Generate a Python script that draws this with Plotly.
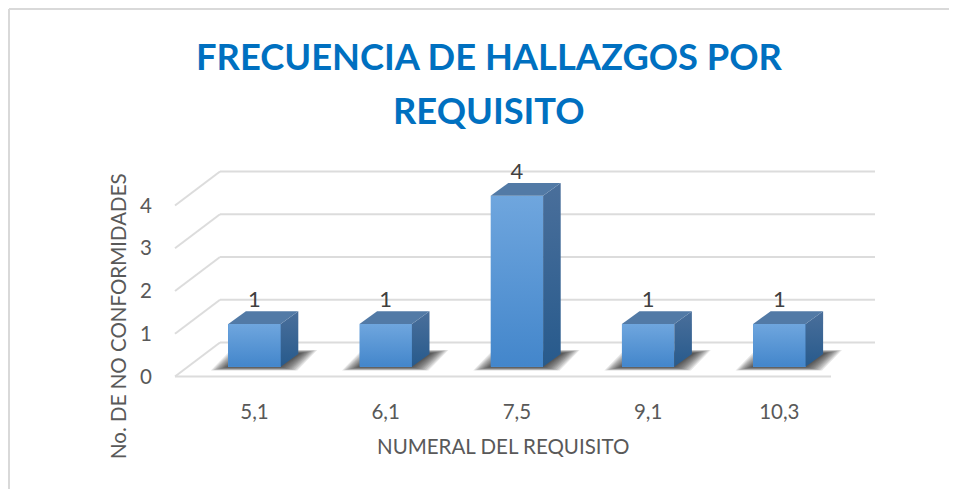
import plotly.graph_objects as go

categories = ["5,1", "6,1", "7,5", "9,1", "10,3"]
values = [1, 1, 4, 1, 1]
y_ticks = [0, 1, 2, 3, 4]
title_line_1 = "FRECUENCIA DE HALLAZGOS POR"
title_line_2 = "REQUISITO"
x_title = "NUMERAL DEL REQUISITO"
y_title = "No. DE NO CONFORMIDADES"

PAGE = 8       # the browser's default page margin around the figure
W, H = 957 - PAGE, 489 - PAGE
PX_X = 131.2   # px per category
PX_Y = 42.75   # px per value unit
X0 = 254.5     # pixel of first category (page coordinates)
Y0 = 376.5     # pixel of value 0 on the front plane
L, R, T, B = 165, 885, 140, 392

def xd(px):
    return (px - X0) / PX_X

def yd(px):
    return (Y0 - px) / PX_Y

fx = lambda px: (px - L) / (R - L)
fy = lambda px: 1 - (px - T) / (B - T)

FLOOR_DX, FLOOR_DY = 45 / PX_X, 34 / PX_Y      # depth of the floor
BAR_DX, BAR_DY = 17.6 / PX_X, 12.7 / PX_Y      # depth of each bar
BAR_W = 52.4 / PX_X
BAR_BASE = 9.8 / PX_Y
xpos = list(range(len(categories)))
x_left = xd(175)
x_front_right = xd(831)
x_right = xd(875)

shapes = []
GRID = dict(color="#dcdcdc", width=2)
for t in y_ticks:
    shapes.append(dict(type="line", xref="x", yref="y", layer="below", line=GRID,
                       x0=x_left, y0=t, x1=x_left + FLOOR_DX, y1=t + FLOOR_DY))
    shapes.append(dict(type="line", xref="x", yref="y", layer="below", line=GRID,
                       x0=x_left + FLOOR_DX, y0=t + FLOOR_DY, x1=x_right, y1=t + FLOOR_DY))
shapes.append(dict(type="line", xref="x", yref="y", layer="below", line=GRID,
                   x0=x_left, y0=0, x1=x_front_right, y1=0))

# floor shadows, layered so the edge looks soft
LAYERS = 12
for p in xpos:
    for k in range(LAYERS):
        grow = (LAYERS - 1 - k) * 1.5 / PX_X
        gy = (LAYERS - 1 - k) * 0.3 / PX_Y
        lx = p - BAR_W / 2 - 1 / PX_X - grow
        rx = p + BAR_W / 2 + grow
        by = BAR_BASE - 0.5 / PX_Y - gy
        ty = BAR_BASE + 13.5 / PX_Y + gy
        sk = 20 / PX_X
        path = f"M{lx},{by} L{rx},{by} L{rx + sk},{ty} L{lx + sk},{ty} Z"
        shapes.append(dict(type="path", xref="x", yref="y", layer="below", path=path,
                           fillcolor="rgba(40,40,40,0.11)", line=dict(width=0)))

# frame
FRAME = dict(color="#d9d9d9", width=2)
shapes.append(dict(type="line", xref="paper", yref="paper", line=FRAME,
                   x0=fx(9), y0=fy(9), x1=fx(957), y1=fy(9)))
shapes.append(dict(type="line", xref="paper", yref="paper", line=FRAME,
                   x0=fx(9), y0=fy(9), x1=fx(9), y1=fy(489)))

fig = go.Figure()
fig.add_trace(go.Bar(x=xpos, y=values, base=[BAR_BASE] * len(values), width=BAR_W,
                     marker=dict(color="#5393d6", line=dict(width=0)), showlegend=False))

def face(xs, ys, **kw):
    fig.add_trace(go.Scatter(x=xs, y=ys, mode="lines", fill="toself", line=dict(width=0),
                             showlegend=False, hoverinfo="skip", **kw))

for p, v in zip(xpos, values):
    l, r = p - BAR_W / 2, p + BAR_W / 2
    b, t = BAR_BASE, BAR_BASE + v
    face([l, r, r, l, l], [b, b, t, t, b],
         fillgradient=dict(type="vertical", colorscale=[[0, "#4386cb"], [1, "#6fa6de"]]))
    face([r, r + BAR_DX, r + BAR_DX, r, r], [b, b + BAR_DY, t + BAR_DY, t, b],
         fillgradient=dict(type="vertical", colorscale=[[0, "#275a8c"], [1, "#4a6f9b"]]))
    face([l, r, r + BAR_DX, l + BAR_DX, l], [t, t, t + BAR_DY, t + BAR_DY, t],
         fillcolor="#527aa6")

fig.add_trace(go.Scatter(x=xpos, y=[v + BAR_BASE + 22.5 / PX_Y for v in values],
                         mode="text", text=[str(v) for v in values],
                         textposition="middle center",
                         textfont=dict(family="Lato", size=22, color="#404040"),
                         showlegend=False, hoverinfo="skip", cliponaxis=False))

TITLE_FONT = dict(family="Lato", size=36.3, color="#0070c0", weight="bold")
annotations = [
    dict(text=title_line_2, xref="paper", yref="paper", x=fx(489), y=fy(110), showarrow=False,
         xanchor="center", yanchor="middle", font=TITLE_FONT),
    dict(text=x_title, xref="paper", yref="paper", x=fx(503), y=fy(446), showarrow=False,
         xanchor="center", yanchor="middle", font=dict(family="Lato", size=20.5, color="#595959")),
    dict(text=y_title, xref="paper", yref="paper", x=fx(118), y=fy(316), showarrow=False,
         textangle=-90, xanchor="center", yanchor="middle",
         font=dict(family="Lato", size=20.5, color="#595959")),
]

TICK_FONT = dict(family="Lato", size=20.5, color="#595959")
fig.update_layout(
    width=W, height=H, autosize=False,
    margin=dict(l=L - PAGE, r=W - (R - PAGE), t=T - PAGE, b=H - (B - PAGE), pad=0),
    paper_bgcolor="white", plot_bgcolor="white", bargap=0, showlegend=False,
    title=dict(text=title_line_1, x=(489 - PAGE) / W, xanchor="center", xref="container",
               y=1 - (57 - PAGE) / H, yanchor="middle", font=TITLE_FONT),
    xaxis=dict(range=[xd(L), xd(R)], tickvals=xpos, ticktext=categories, showgrid=False,
               zeroline=False, showline=False, ticks="outside", ticklen=1,
               tickcolor="rgba(0,0,0,0)", tickfont=TICK_FONT),
    yaxis=dict(range=[yd(B), yd(T)], tickvals=y_ticks, showgrid=False, zeroline=False,
               showline=False, ticks="outside", ticklen=8, tickcolor="rgba(0,0,0,0)",
               tickfont=TICK_FONT),
    shapes=shapes, annotations=annotations,
)
fig.write_html("out.html")
